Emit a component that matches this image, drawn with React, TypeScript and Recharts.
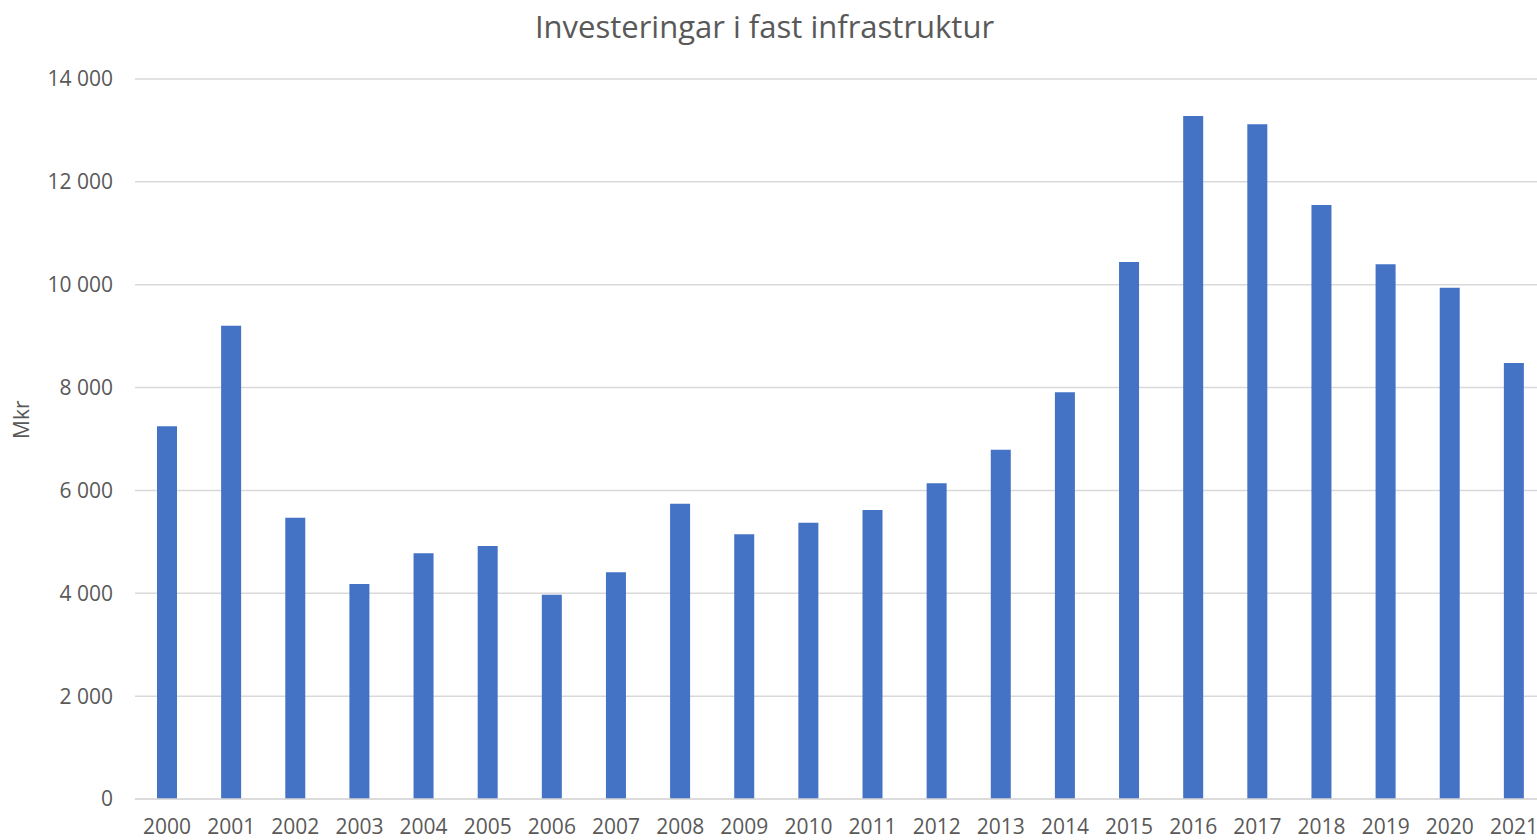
import { BarChart, Bar, XAxis, YAxis, CartesianGrid } from "recharts";

const years = [
  "2000", "2001", "2002", "2003", "2004", "2005", "2006", "2007", "2008", "2009", "2010",
  "2011", "2012", "2013", "2014", "2015", "2016", "2017", "2018", "2019", "2020", "2021",
];

const investments = [
  7250, 9200, 5470, 4180, 4780, 4920, 3970, 4410, 5740, 5150, 5370,
  5620, 6140, 6790, 7910, 10440, 13280, 13120, 11550, 10400, 9940, 8480,
];

const yTicks = [0, 2000, 4000, 6000, 8000, 10000, 12000, 14000];

const data = years.map((year, i) => ({ year, value: investments[i] }));

const FONT = "'Open Sans', sans-serif";
const TEXT = "#595959";

const fmt = (v: number) => v.toLocaleString("en-US").replace(/,/g, " ");

export default function App() {
  return (
    <div
      style={{
        position: "fixed",
        left: 0,
        top: 0,
        width: 1537,
        height: 840,
        overflow: "hidden",
        background: "#fff",
        fontFamily: FONT,
      }}
    >
      <div
        style={{
          position: "absolute",
          left: 0,
          width: 1529,
          top: 5,
          textAlign: "center",
          fontSize: 31,
          color: TEXT,
        }}
      >
        Investeringar i fast infrastruktur
      </div>
      <BarChart
        width={1560}
        height={840}
        data={data}
        margin={{ top: 79, right: 14, left: 0, bottom: 5 }}
      >
        <CartesianGrid vertical={false} stroke="#d9d9d9" strokeWidth={1.5} />
        <XAxis
          dataKey="year"
          axisLine={{ stroke: "#d9d9d9", strokeWidth: 1.5 }}
          tickLine={false}
          tickMargin={14}
          height={36}
          interval={0}
          tick={{ fontSize: 21, fill: TEXT, fontFamily: FONT }}
        />
        <YAxis
          width={135}
          domain={[0, 14000]}
          ticks={yTicks}
          tickFormatter={fmt}
          axisLine={false}
          tickLine={false}
          tickMargin={16}
          tick={{ fontSize: 21, fill: TEXT, fontFamily: FONT }}
          label={{
            value: "Mkr",
            angle: -90,
            position: "insideLeft",
            offset: 22,
            style: { fontSize: 21, fill: TEXT, fontFamily: FONT },
          }}
        />
        <Bar dataKey="value" fill="#4472C4" barSize={20} isAnimationActive={false} />
      </BarChart>
    </div>
  );
}
